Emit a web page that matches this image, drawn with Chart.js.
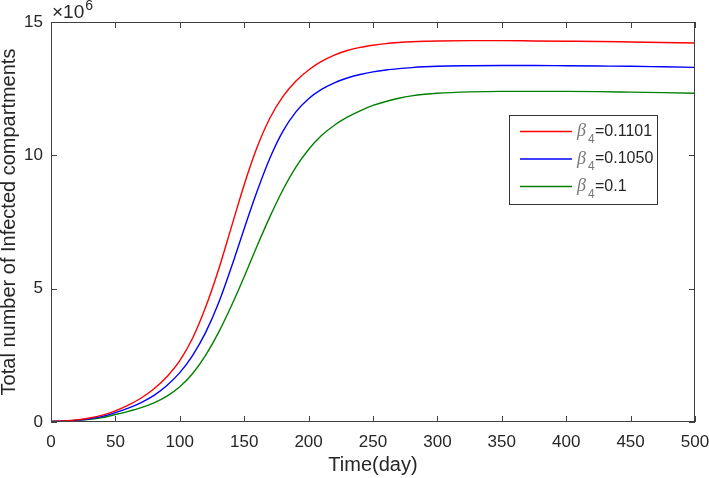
<!DOCTYPE html>
<html>
<head>
<meta charset="utf-8">
<script src="https://cdn.jsdelivr.net/npm/chart.js@4.4.0/dist/chart.umd.min.js"></script>
<style>
html, body { margin: 0; padding: 0; background: #fff; }
#wrap { width: 709px; height: 478px; }
</style>
</head>
<body>
<div id="wrap"><canvas id="chart" width="709" height="478"></canvas></div>
<script>
// days on the x axis
var days = [0, 10, 20, 30, 40, 50, 60, 70, 80, 90, 100, 110, 120, 130, 140, 150, 160, 170, 180, 190,
	200, 210, 220, 230, 240, 250, 260, 270, 280, 290, 300, 325, 350, 375, 400, 425, 450, 475, 500];

// infected totals, in units of 10^6
var betaHigh = [0.02, 0.04, 0.08, 0.15, 0.26, 0.42, 0.63, 0.9, 1.25, 1.7, 2.3, 3.15, 4.3, 5.7, 7.3, 8.9, 10.3, 11.4, 12.2, 12.78,
	13.2, 13.52, 13.76, 13.93, 14.05, 14.13, 14.19, 14.23, 14.26, 14.28, 14.29, 14.3, 14.3, 14.29, 14.28, 14.27, 14.25, 14.23, 14.21];
var betaMid = [0.02, 0.04, 0.07, 0.12, 0.21, 0.35, 0.52, 0.73, 1.0, 1.37, 1.85, 2.5, 3.35, 4.45, 5.8, 7.25, 8.65, 9.9, 10.9, 11.62,
	12.12, 12.47, 12.72, 12.9, 13.03, 13.13, 13.2, 13.25, 13.29, 13.32, 13.34, 13.36, 13.37, 13.37, 13.36, 13.35, 13.34, 13.32, 13.3];
var betaLow = [0.02, 0.03, 0.06, 0.1, 0.17, 0.28, 0.4, 0.54, 0.72, 0.97, 1.32, 1.82, 2.5, 3.35, 4.35, 5.45, 6.6, 7.7, 8.7, 9.55,
	10.22, 10.74, 11.13, 11.43, 11.67, 11.87, 12.02, 12.14, 12.23, 12.29, 12.33, 12.38, 12.4, 12.4, 12.4, 12.39, 12.37, 12.35, 12.33];

var betaLabels = ['0.1101', '0.1050', '0.1'];
var lineColors = ['#ff0000', '#0000ff', '#008000'];
var xTickStep = 50;
var yTickStep = 5;

var axisColor = '#404040';
var textColor = '#262626';
var sans = '"Liberation Sans", Arial, sans-serif';

function points(vals) {
	return days.map(function(d, i) { return {x: d, y: vals[i]}; });
}

// MATLAB style box with inward ticks on all four sides
var boxPlugin = {
	id: 'box',
	afterDraw: function(chart) {
		var ctx = chart.ctx, a = chart.chartArea;
		var xs = chart.scales.x, ys = chart.scales.y;
		ctx.save();
		ctx.strokeStyle = axisColor;
		ctx.lineWidth = 1;
		ctx.beginPath();
		xs.ticks.forEach(function(t) {
			var px = Math.round(xs.getPixelForValue(t.value)) + 0.5;
			ctx.moveTo(px, a.bottom); ctx.lineTo(px, a.bottom - 6);
			ctx.moveTo(px, a.top); ctx.lineTo(px, a.top + 6);
		});
		ys.ticks.forEach(function(t) {
			var py = Math.round(ys.getPixelForValue(t.value)) + 0.5;
			ctx.moveTo(a.left, py); ctx.lineTo(a.left + 6, py);
			ctx.moveTo(a.right, py); ctx.lineTo(a.right - 6, py);
		});
		ctx.stroke();
		ctx.strokeRect(a.left + 0.5, a.top + 0.5, a.right - a.left - 1, a.bottom - a.top - 1);

		// x10^6 exponent above the y axis
		ctx.fillStyle = textColor;
		ctx.textBaseline = 'alphabetic';
		ctx.textAlign = 'left';
		ctx.font = '19px ' + sans;
		ctx.fillText('\u00d710', a.left + 1, 18);
		var w = ctx.measureText('\u00d710').width;
		ctx.font = '14px ' + sans;
		ctx.fillText('6', a.left + 2 + w, 10);

		// legend
		var lx = 509, ly = 115, lw = 148, lh = 89;
		ctx.fillStyle = '#fff';
		ctx.fillRect(lx, ly, lw, lh);
		ctx.strokeStyle = '#333';
		ctx.strokeRect(lx + 0.5, ly + 0.5, lw, lh);
		chart.data.datasets.forEach(function(ds, i) {
			var cy = 131.5 + i * 27.5;
			ctx.strokeStyle = ds.borderColor;
			ctx.lineWidth = 1.3;
			ctx.beginPath();
			ctx.moveTo(520, cy); ctx.lineTo(572, cy);
			ctx.stroke();
			ctx.textBaseline = 'middle';
			ctx.font = 'italic 18px "Liberation Serif", "Times New Roman", serif';
			ctx.fillStyle = '#777';
			ctx.fillText('\u03b2', 577, cy);
			ctx.font = '12px ' + sans;
			ctx.fillText('4', 588, cy + 8);
			ctx.fillStyle = textColor;
			ctx.font = '16px ' + sans;
			ctx.fillText('=' + betaLabels[i], 595, cy);
		});
		ctx.restore();
	}
};

var ctx = document.getElementById('chart').getContext('2d');
var chart = new Chart(ctx, {
	type: 'line',
	data: {
		datasets: [
			{label: betaLabels[0], data: points(betaHigh), borderColor: lineColors[0]},
			{label: betaLabels[1], data: points(betaMid), borderColor: lineColors[1]},
			{label: betaLabels[2], data: points(betaLow), borderColor: lineColors[2]}
		]
	},
	options: {
		responsive: false,
		animation: false,
		layout: {padding: {left: 0, top: 22, right: 14, bottom: 0}},
		elements: {
			point: {radius: 0},
			line: {borderWidth: 1.4, cubicInterpolationMode: 'monotone', fill: false}
		},
		plugins: {legend: {display: false}, tooltip: {enabled: false}},
		scales: {
			x: {
				type: 'linear', min: 0, max: 500,
				grid: {display: false, drawTicks: false},
				border: {display: false},
				ticks: {stepSize: xTickStep, padding: 10, maxRotation: 0, color: textColor,
					font: {family: sans, size: 17}},
				title: {display: true, text: 'Time(day)', color: textColor, padding: {top: 0, bottom: 1},
					font: {family: sans, size: 20}},
				afterFit: function(s) {
					s.height = 56;
					s.paddingLeft = 0;
					s.paddingRight = 0;
				}
			},
			y: {
				min: 0, max: 15,
				grid: {display: false, drawTicks: false},
				border: {display: false},
				ticks: {stepSize: yTickStep, padding: 8, color: textColor,
					font: {family: sans, size: 17}},
				title: {display: true, text: 'Total number of Infected compartments', color: textColor,
					padding: {top: -3, bottom: 0},
					font: {family: sans, size: 20}},
				afterFit: function(s) {
					s.width = 51;
					s.paddingTop = 0;
					s.paddingBottom = 0;
				}
			}
		}
	},
	plugins: [boxPlugin]
});
</script>
</body>
</html>
